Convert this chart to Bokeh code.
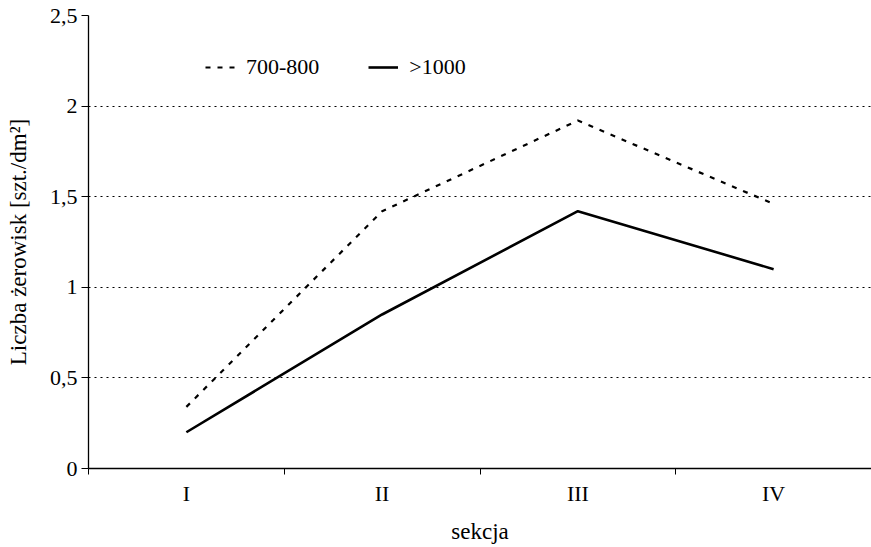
from bokeh.plotting import figure
from bokeh.models import FixedTicker, Legend, LegendItem, Range1d
from bokeh.embed import file_html
from bokeh.resources import INLINE

categories = ["I", "II", "III", "IV"]
series_700_800 = [0.34, 1.42, 1.92, 1.46]
series_1000 = [0.20, 0.85, 1.42, 1.10]
y_ticks = [0, 0.5, 1, 1.5, 2, 2.5]
y_tick_labels = ["0", "0,5", "1", "1,5", "2", "2,5"]
label_700 = "700-800"
label_1000 = ">1000"

FONT = "Liberation Serif"
FS = "22px"
FS_LABEL = "23px"

x = [i + 1 for i in range(len(categories))]

p = figure(width=871, height=547, output_backend="svg", toolbar_location=None,
           x_range=Range1d(0.5, len(categories) + 0.5), y_range=Range1d(0, 2.5),
           min_border_left=88, min_border_right=0, min_border_top=15, min_border_bottom=79)
p.outline_line_color = None
p.background_fill_color = "white"
p.border_fill_color = "white"

r1 = p.line(x, series_700_800, line_color="black", line_width=2.2, line_dash="5 7")
r2 = p.line(x, series_1000, line_color="black", line_width=2.6)

# x axis
p.xaxis.ticker = FixedTicker(ticks=x, minor_ticks=[i + 0.5 for i in range(len(categories) + 1)])
p.xaxis.major_label_overrides = {xi: c for xi, c in zip(x, categories)}
p.xaxis.major_tick_out = 0
p.xaxis.major_tick_in = 0
p.xaxis.minor_tick_out = 6
p.xaxis.minor_tick_in = 0
p.xaxis.axis_label = "sekcja"

# y axis
p.yaxis.ticker = FixedTicker(ticks=y_ticks, minor_ticks=[])
p.yaxis.major_label_overrides = {t: l for t, l in zip(y_ticks, y_tick_labels)}
p.yaxis.major_tick_out = 7
p.yaxis.major_tick_in = 0
p.yaxis.axis_label = "Liczba żerowisk [szt./dm²]"

for ax in (p.xaxis[0], p.yaxis[0]):
    ax.axis_line_color = "black"
    ax.axis_line_width = 1.3
    ax.major_tick_line_color = "black"
    ax.minor_tick_line_color = "black"
    ax.major_label_text_font = FONT
    ax.major_label_text_font_size = FS
    ax.major_label_text_color = "black"
    ax.axis_label_text_font = FONT
    ax.axis_label_text_font_size = FS_LABEL
    ax.axis_label_text_font_style = "normal"
    ax.axis_label_text_color = "black"

p.yaxis.major_label_standoff = 4
p.yaxis.axis_label_standoff = 16
p.xaxis.major_label_standoff = 6
p.xaxis.axis_label_standoff = 10

p.xgrid.grid_line_color = None
p.ygrid.ticker = FixedTicker(ticks=y_ticks[1:])
p.ygrid.grid_line_color = "black"
p.ygrid.grid_line_dash = "2 4"
p.ygrid.grid_line_width = 1

legend = Legend(items=[LegendItem(label=label_700, renderers=[r1]),
                       LegendItem(label=label_1000, renderers=[r2])],
                orientation="horizontal", location=(117, 388),
                border_line_color=None, background_fill_alpha=0,
                padding=0, margin=0, spacing=49, label_standoff=11,
                glyph_width=30, label_text_font=FONT, label_text_font_size=FS,
                label_text_color="black")
p.add_layout(legend, "center")

open("out.html", "w").write(file_html(p, INLINE))
